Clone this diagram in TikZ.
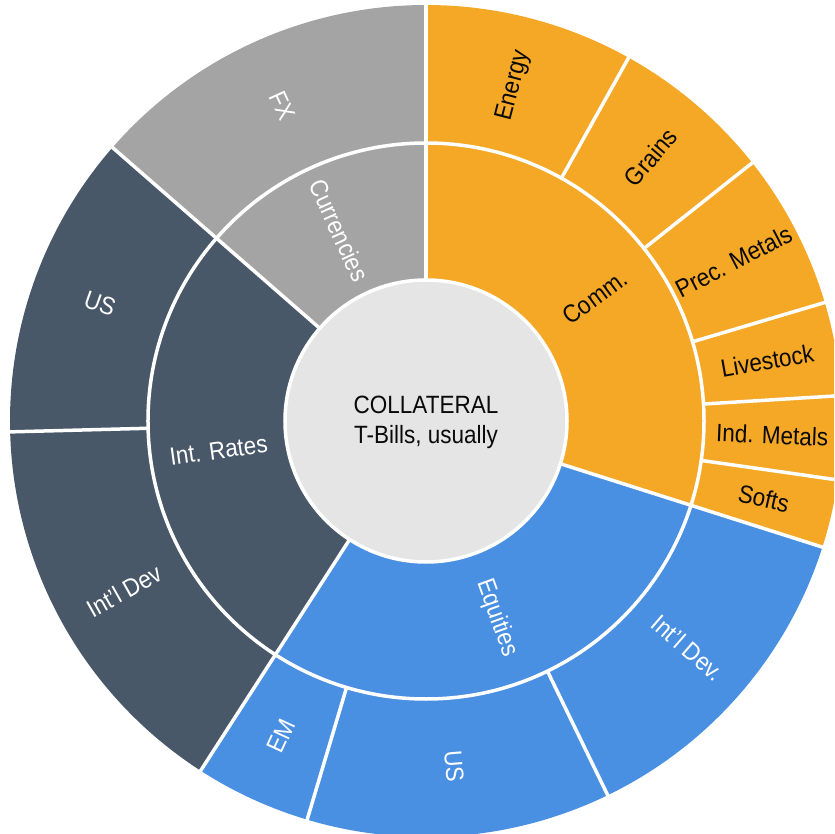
\documentclass[tikz,border=0pt]{standalone}
\usepackage{fontspec}
\setmainfont{Liberation Sans}[FakeStretch=0.9]
\definecolor{commC}{RGB}{245,167,38}
\definecolor{curC}{RGB}{164,164,164}
\definecolor{irC}{RGB}{73,88,105}
\definecolor{eqC}{RGB}{74,144,226}
\definecolor{coreC}{RGB}{229,229,229}
\definecolor{txtC}{RGB}{10,10,10}
\newcommand{\pieslice}[4]{\fill[#1] (0,0) -- (#2:#4pt) arc[start angle=#2, end angle=#3, radius=#4pt] -- cycle;}
\tikzset{
  lbl/.style={inner sep=0pt, font=\fontsize{25}{30}\selectfont},
  dark/.style={lbl, text=txtC},
  light/.style={lbl, text=white},
  sep/.style={white, line width=3.5pt}
}
\begin{document}
\begin{tikzpicture}
\useasboundingbox (-426pt,-413pt) rectangle (408pt,421pt);
\clip (-426pt,-413pt) rectangle (408pt,421pt);
% parent slices (children share the colour)
\pieslice{commC}{-17.65}{90}{416}
\pieslice{curC}{90}{138.9}{416}
\pieslice{irC}{138.9}{237.2}{416}
\pieslice{eqC}{237.2}{342.35}{416}
% separators between parents
\foreach \a in {90,138.9,237.2,342.35} \draw[sep] (\a:141pt) -- (\a:417pt);
% separators between children
\foreach \a in {60.85,38.35,16.55,3.5,-8.15,181.5,253.4,295.9} \draw[sep] (\a:278pt) -- (\a:417pt);
\draw[sep] (0,0) circle[radius=278pt];
% core
\fill[coreC] (0,0) circle[radius=141pt];
\draw[sep] (0,0) circle[radius=141pt];
\node[dark, align=center] (core) at (0,-1pt) {COLLATERAL\\T-Bills, usually};
% inner ring labels
\node[dark, rotate=36.2] (comm) at (36.2:209.5pt) {Comm.};
\node[light, rotate=-70.2] (equities) at (-70.2:209.5pt) {Equities};
\node[light, rotate=8.05] (rates) at (188.05:209.5pt) {Int. Rates};
\node[light, rotate=-65.55] (currencies) at (114.45:209.5pt) {Currencies};
% outer ring labels
\node[dark, rotate=75.4] (energy) at (75.4:346.5pt) {Energy};
\node[dark, rotate=49.6] (grains) at (49.6:346.5pt) {Grains};
\node[dark, rotate=27.45] (precmet) at (27.45:346.5pt) {Prec. Metals};
\node[dark, rotate=10.03] (livestock) at (10.03:346.5pt) {Livestock};
\node[dark, rotate=-2.33] (indmet) at (-2.33:346.5pt) {Ind. Metals};
\node[dark, rotate=-12.9] (softs) at (-12.9:346.5pt) {Softs};
\node[light, rotate=-40.9] (eqintl) at (-40.9:346.5pt) {Int'l Dev.};
\node[light, rotate=-85.35] (equs) at (-85.35:346.5pt) {US};
\node[light, rotate=65.3] (eqem) at (245.3:346.5pt) {EM};
\node[light, rotate=29.35] (irintl) at (209.35:346.5pt) {Int'l Dev};
\node[light, rotate=-19.8] (irus) at (160.2:346.5pt) {US};
\node[light, rotate=-65.55] (fx) at (114.45:346.5pt) {FX};
\end{tikzpicture}
\end{document}
